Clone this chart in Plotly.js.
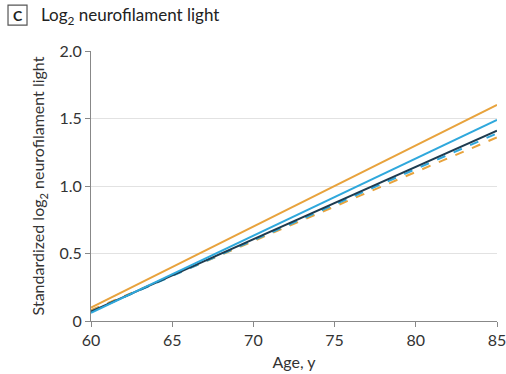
<!DOCTYPE html>
<html><head><meta charset="utf-8">
<script src="https://cdn.plot.ly/plotly-3.0.1.min.js"></script>
<style>html,body{margin:0;padding:0;background:#fff}#c{width:506px;height:374px}</style>
</head><body><div id="c"></div>
<script>
var ages = [60, 85];
var orangeSolid = [0.10, 1.60];
var blueSolid = [0.06, 1.49];
var navySolid = [0.07, 1.41];
var blueDashed = [0.07, 1.39];
var orangeDashed = [0.08, 1.36];
var yTickVals = [0, 0.5, 1.0, 1.5, 2.0];
var yTickText = ['0', '0.5', '1.0', '1.5', '2.0'];
var xTickVals = [60, 65, 70, 75, 80, 85];

function tr(y, color, dash) {
  return {x: ages, y: y, type: 'scatter', mode: 'lines', line: {color: color, width: 2, dash: dash}, hoverinfo: 'skip'};
}
var data = [
  tr(orangeDashed, '#E8A33D', 'dash'),
  tr(blueDashed, '#2FA8DC', 'dash'),
  tr(navySolid, '#1E3B4F', 'solid'),
  tr(blueSolid, '#2FA8DC', 'solid'),
  tr(orangeSolid, '#E8A33D', 'solid')
];
var font = {family: 'Lato, sans-serif', size: 16, color: '#333'};
var layout = {
  width: 506, height: 374,
  margin: {l: 91, r: 9, t: 51, b: 53},
  showlegend: false,
  paper_bgcolor: '#fff', plot_bgcolor: '#fff',
  font: font,
  xaxis: {range: [60, 85], tickvals: xTickVals, ticks: 'outside', ticklen: 5, tickcolor: '#888',
    showline: true, linecolor: '#888', linewidth: 1, showgrid: false, zeroline: false,
    ticklabeloverflow: 'allow',
    tickfont: font, title: {text: 'Age, y', font: font, standoff: 8}},
  yaxis: {range: [0, 2.0], tickvals: yTickVals, ticktext: yTickText, ticks: 'outside', ticklen: 5, tickcolor: '#888',
    showline: true, linecolor: '#888', linewidth: 1, showgrid: true, gridcolor: '#e2e2e2', zeroline: false,
    tickfont: font, title: {text: 'Standardized log<sub>2</sub> neurofilament light', font: font, standoff: 10}},
  shapes: [
    {type: 'rect', xref: 'paper', yref: 'paper', x0: -0.2044, x1: -0.1576, y0: 1.096, y1: 1.170,
     line: {color: '#555', width: 1.2}, fillcolor: 'rgba(0,0,0,0)'}
  ],
  annotations: [
    {xref: 'paper', yref: 'paper', x: -0.181, y: 1.133, xanchor: 'center', yanchor: 'middle',
     text: '<b>C</b>', showarrow: false, font: {family: 'Lato, sans-serif', size: 14, color: '#222'}},
    {xref: 'paper', yref: 'paper', x: -0.128, y: 1.13, xanchor: 'left', yanchor: 'middle',
     text: 'Log<sub>2</sub> neurofilament light', showarrow: false, font: {family: 'Lato, sans-serif', size: 17, color: '#222'}}
  ]
};
Plotly.newPlot('c', data, layout, {displayModeBar: false, staticPlot: true});
</script></body></html>
